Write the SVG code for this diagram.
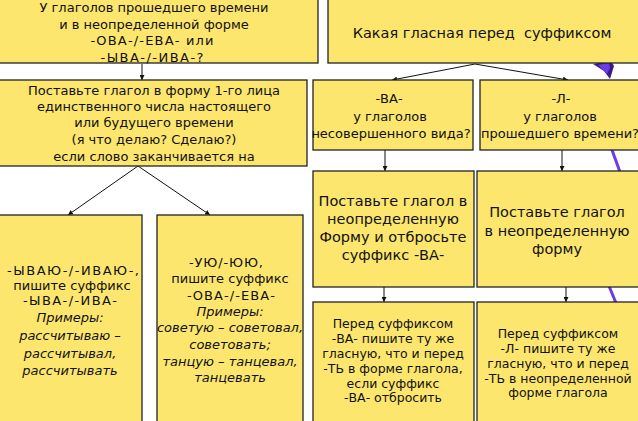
<svg xmlns="http://www.w3.org/2000/svg" width="638" height="421" viewBox="0 0 638 421">
<defs>
<marker id="ah" viewBox="0 0 6 6" refX="6" refY="3" markerWidth="5" markerHeight="5" orient="auto" markerUnits="userSpaceOnUse">
<path d="M0,0 L6,3 L0,6 z" fill="#111"/>
</marker>
<style>
.box{fill:#fce66e;stroke:#222;stroke-width:1.3}
text{font-family:"DejaVu Sans","Open Sans",sans-serif;fill:#111;text-anchor:middle}
.t13{font-size:13px}
.t12{font-size:12.5px}
.t14{font-size:14.5px}
.it{font-style:italic;font-size:13px}
.con{stroke:#111;stroke-width:1;fill:none}
.deco{stroke:#6a3de8;stroke-width:3;fill:none;stroke-linecap:round}
</style>
</defs>
<rect width="638" height="421" fill="#ffffff"/>
<g id="decoration">
<polygon points="593,64 611,61 614,66 610,79 604,71" fill="#3a1a8a"/>
<polygon points="598,65 609,63 610,68 607,74" fill="#6a3de8"/>
<line class="deco" x1="612" y1="150" x2="620" y2="172"/>
<line class="deco" x1="609" y1="286" x2="616" y2="303"/>
</g>
<g id="connectors">
<line class="con" x1="142" y1="64" x2="142" y2="80" marker-end="url(#ah)"/>
<line class="con" x1="475" y1="64" x2="392" y2="80" marker-end="url(#ah)"/>
<line class="con" x1="475" y1="64" x2="568" y2="80" marker-end="url(#ah)"/>
<line class="con" x1="138" y1="166" x2="68" y2="215" marker-end="url(#ah)"/>
<line class="con" x1="138" y1="166" x2="210" y2="215" marker-end="url(#ah)"/>
<line class="con" x1="385" y1="150" x2="385" y2="171" marker-end="url(#ah)"/>
<line class="con" x1="562" y1="150" x2="562" y2="171" marker-end="url(#ah)"/>
<line class="con" x1="384" y1="287" x2="384" y2="302" marker-end="url(#ah)"/>
<line class="con" x1="566" y1="287" x2="566" y2="302" marker-end="url(#ah)"/>
</g>
<g id="n1">
<rect class="box" x="-2" y="-2" width="320" height="65"/>
<text class="t13" x="154" y="12">У глаголов прошедшего времени</text>
<text class="t13" x="154" y="29">и в неопределенной форме</text>
<text class="t13" x="152" y="45" textLength="123" lengthAdjust="spacing">-ОВА-/-ЕВА- или</text>
<text class="t13" x="152" y="62" textLength="103" lengthAdjust="spacing">-ЫВА-/-ИВА-?</text>
</g>
<g id="n2">
<rect class="box" x="-2" y="80" width="309" height="86"/>
<text class="t13" x="154" y="95">Поставьте глагол в форму 1-го лица</text>
<text class="t13" x="154" y="111">единственного числа настоящего</text>
<text class="t13" x="154" y="127">или будущего времени</text>
<text class="t13" x="154" y="144">(я что делаю? Сделаю?)</text>
<text class="t13" x="154" y="161">если слово заканчивается на</text>
</g>
<g id="n3">
<rect class="box" x="328" y="-2" width="312" height="65"/>
<text class="t14" x="482" y="38" xml:space="preserve">Какая гласная перед  суффиксом</text>
</g>
<g id="n4">
<rect class="box" x="313" y="80" width="160" height="70"/>
<text class="t13" x="389" y="103">-ВА-</text>
<text class="t13" x="390" y="121">у глаголов</text>
<text class="t13" x="391" y="138">несовершенного вида?</text>
</g>
<g id="n5">
<rect class="box" x="480" y="80" width="160" height="70"/>
<text class="t13" x="561" y="103">-Л-</text>
<text class="t13" x="560" y="121">у глаголов</text>
<text class="t13" x="560" y="138">прошедшего времени?</text>
</g>
<g id="n6">
<rect class="box" x="313" y="171" width="161" height="116"/>
<text class="t14" x="393" y="206">Поставьте глагол в</text>
<text class="t14" x="393" y="224">неопределенную</text>
<text class="t14" x="393" y="242">Форму и отбросьте</text>
<text class="t14" x="393" y="260">суффикс -ВА-</text>
</g>
<g id="n7">
<rect class="box" x="477" y="171" width="163" height="116"/>
<text class="t14" x="557" y="217">Поставьте глагол</text>
<text class="t14" x="557" y="236">в неопределенную</text>
<text class="t14" x="557" y="254">форму</text>
</g>
<g id="n8">
<rect class="box" x="313" y="302" width="161" height="122"/>
<text class="t12" x="393" y="328">Перед суффиксом</text>
<text class="t12" x="393" y="343">-ВА- пишите ту же</text>
<text class="t12" x="393" y="358">гласную, что и перед</text>
<text class="t12" x="393" y="373">-ТЬ в форме глагола,</text>
<text class="t12" x="393" y="388">если суффикс</text>
<text class="t12" x="393" y="402">-ВА- отбросить</text>
</g>
<g id="n9">
<rect class="box" x="477" y="302" width="163" height="122"/>
<text class="t12" x="558" y="338">Перед суффиксом</text>
<text class="t12" x="558" y="353">-Л- пишите ту же</text>
<text class="t12" x="558" y="368">гласную, что и перед</text>
<text class="t12" x="558" y="383">-ТЬ в неопределенной</text>
<text class="t12" x="558" y="397">форме глагола</text>
</g>
<g id="n10">
<rect class="box" x="-2" y="215" width="144" height="210"/>
<text class="t13" x="73" y="275" textLength="132" lengthAdjust="spacing">-ЫВАЮ-/-ИВАЮ-,</text>
<text class="t13" x="72" y="290">пишите суффикс</text>
<text class="t13" x="70" y="305" textLength="94" lengthAdjust="spacing">-ЫВА-/-ИВА-</text>
<text class="it" x="70" y="322">Примеры:</text>
<text class="it" x="70" y="340">рассчитываю –</text>
<text class="it" x="70" y="358">рассчитывал,</text>
<text class="it" x="70" y="375">рассчитывать</text>
</g>
<g id="n11">
<rect class="box" x="157" y="215" width="146" height="210"/>
<text class="t13" x="226" y="267" textLength="74" lengthAdjust="spacing">-УЮ/-ЮЮ,</text>
<text class="t13" x="230" y="283">пишите суффикс</text>
<text class="t13" x="231" y="300" textLength="88" lengthAdjust="spacing">-ОВА-/-ЕВА-</text>
<text class="it" x="230" y="316">Примеры:</text>
<text class="it" x="230" y="332">советую – советовал,</text>
<text class="it" x="230" y="349">советовать;</text>
<text class="it" x="230" y="366">танцую – танцевал,</text>
<text class="it" x="230" y="382">танцевать</text>
</g>
</svg>
